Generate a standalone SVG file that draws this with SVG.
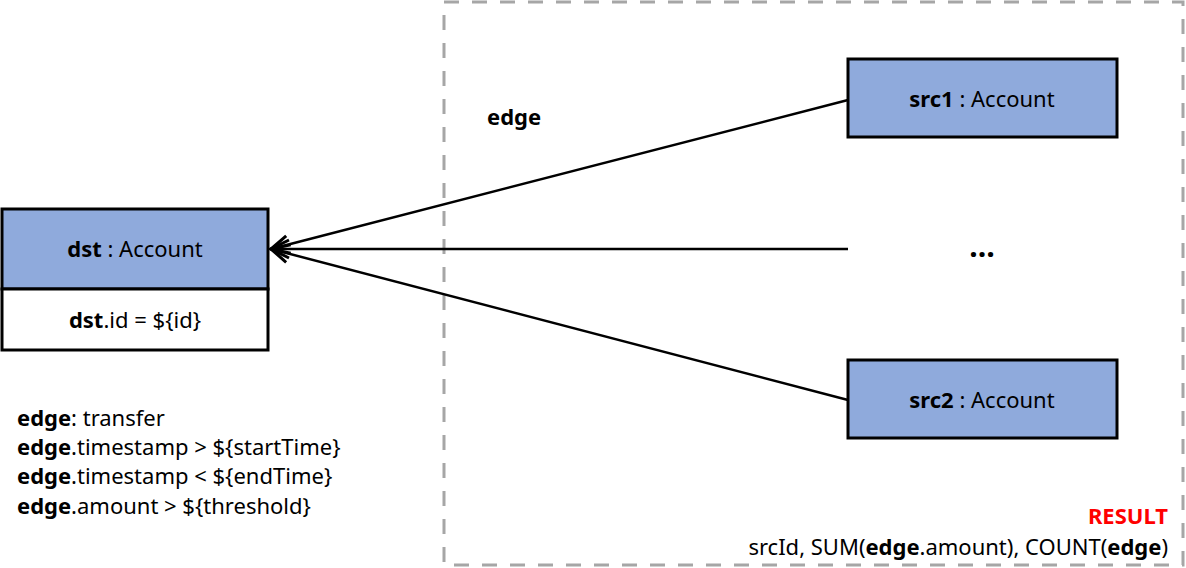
<svg xmlns="http://www.w3.org/2000/svg" width="1186" height="568" viewBox="0 0 1186 568">
<style>
text{font-family:"Noto Sans","Open Sans","Liberation Sans",sans-serif;font-size:22px;fill:#000}
.b{font-weight:bold}
.hd{fill:#8FAADC;stroke:#000;stroke-width:3}
.bd{fill:#fff;stroke:#000;stroke-width:3}
.c{stroke:#000;stroke-width:2.5;fill:none;marker-end:url(#ah)}
</style>
<defs>
<marker id="ah" viewBox="0 0 22 22" refX="20" refY="11" markerWidth="22" markerHeight="22" markerUnits="userSpaceOnUse" orient="auto">
<path d="M2,2 L20,11 L2,20" fill="none" stroke="#000" stroke-width="3"/>
</marker>
</defs>
<rect x="444" y="2" width="739" height="563" fill="none" stroke="#A6A6A6" stroke-width="3" stroke-dasharray="15,13"/>
<g id="connectors">
<line class="c" x1="848" y1="100" x2="271" y2="249"/>
<line class="c" x1="848" y1="249" x2="271" y2="249"/>
<line class="c" x1="848" y1="400" x2="271" y2="249"/>
</g>
<g id="dst">
<rect class="hd" x="2" y="209" width="266" height="80"/>
<rect class="bd" x="2" y="289" width="266" height="61"/>
<text x="135" y="257" text-anchor="middle"><tspan class="b">dst</tspan> : Account</text>
<text x="135" y="328" text-anchor="middle"><tspan class="b">dst</tspan>.id = ${id}</text>
</g>
<g id="src1">
<rect class="hd" x="848" y="59" width="269" height="78"/>
<text x="982" y="107" text-anchor="middle"><tspan class="b">src1</tspan> : Account</text>
</g>
<g id="src2">
<rect class="hd" x="848" y="360" width="269" height="78"/>
<text x="982" y="408" text-anchor="middle"><tspan class="b">src2</tspan> : Account</text>
</g>
<g id="ellipsis">
<text x="982" y="257" text-anchor="middle" class="b" style="font-size:30px">…</text>
</g>
<text x="487" y="125" class="b">edge</text>
<g id="conditions">
<text x="17" y="426"><tspan class="b">edge</tspan>: transfer</text>
<text x="17" y="455"><tspan class="b">edge</tspan>.timestamp &gt; ${startTime}</text>
<text x="17" y="484"><tspan class="b">edge</tspan>.timestamp &lt; ${endTime}</text>
<text x="17" y="514"><tspan class="b">edge</tspan>.amount &gt; ${threshold}</text>
</g>
<g id="result">
<text x="1168" y="524" text-anchor="end" class="b" style="fill:#FF0000">RESULT</text>
<text x="1168" y="555" text-anchor="end">srcId, SUM(<tspan class="b">edge</tspan>.amount), COUNT(<tspan class="b">edge</tspan>)</text>
</g>
</svg>
